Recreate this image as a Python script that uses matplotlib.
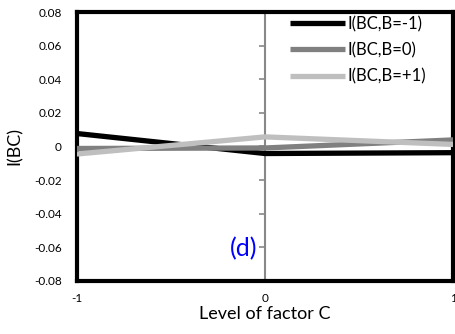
import matplotlib
matplotlib.use('Agg')
from matplotlib import pyplot as plt

plt.rcParams['font.family'] = ['Lato', 'DejaVu Sans']

levels = [-1, 0, 1]
b_minus = [0.0077, -0.0042, -0.0037]
b_zero = [-0.0012, -0.0009, 0.0039]
b_plus = [-0.0045, 0.0057, 0.0012]
labels = ['I(BC,B=-1)', 'I(BC,B=0)', 'I(BC,B=+1)']
colors = ['#000000', '#808080', '#bfbfbf']
yticks = [-0.08, -0.06, -0.04, -0.02, 0, 0.02, 0.04, 0.06, 0.08]
ytick_labels = ['-0.08', '-0.06', '-0.04', '-0.02', '0', '0.02', '0.04', '0.06', '0.08']

fig = plt.figure(figsize=(4.55, 3.34), dpi=100)
ax = fig.add_axes([0.169, 0.159, 0.827, 0.805])

# center axis (Excel style, crosses at x=0)
ax.axvline(0, color='#888888', lw=1.5, zorder=1)
for t in yticks:
    ax.plot([-0.032, 0], [t, t], color='#888888', lw=1.2, zorder=1,
            solid_capstyle='butt')

for vals, lab, col in zip([b_minus, b_zero, b_plus], labels, colors):
    ax.plot(levels, vals, color=col, lw=3.8, label=lab, zorder=3,
            solid_capstyle='butt')

ax.set_xlim(-1, 1)
ax.set_ylim(-0.08, 0.08)
ax.set_xticks(levels)
ax.set_xticklabels(['-1', '0', '1'], fontsize=8.5)
ax.set_yticks(yticks)
ax.set_yticklabels(ytick_labels, fontsize=8.5)
ax.tick_params(axis='y', length=0, pad=11)
ax.tick_params(axis='x', length=0, pad=9)
for s in ax.spines.values():
    s.set_linewidth(3)
    s.set_color('black')

ax.set_xlabel('Level of factor C', fontsize=13, labelpad=1)
ax.set_ylabel('I(BC)', fontsize=13, labelpad=8)

ax.text(-0.04, -0.061, '(d)', color='#0000ff', fontsize=18,
        ha='right', va='center')

leg = ax.legend(loc='upper left', bbox_to_anchor=(0.566, 0.985),
                frameon=False, fontsize=12, handlelength=3.3,
                handletextpad=0.15, labelspacing=0.6,
                borderaxespad=0, borderpad=0)

fig.savefig('out.png', dpi=100)
